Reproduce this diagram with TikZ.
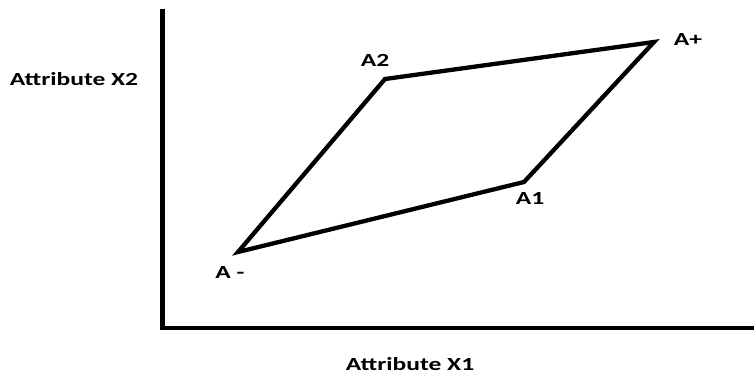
\documentclass[tikz,border=0pt]{standalone}
\usepackage{fontspec}
\setmainfont{Carlito}
\newfontfamily\lbl[FakeStretch=1.38]{Carlito}
\begin{document}
\begin{tikzpicture}[x=1pt,y=-1pt,
  lab/.style={font=\lbl\bfseries\fontsize{18.5}{22}\selectfont, inner sep=0pt, anchor=center},
  edge/.style={line width=4.3pt, line join=miter, line cap=round}]
\useasboundingbox (0,0) rectangle (754,375);
\coordinate (ytop) at (162.5,9);
\coordinate (orig) at (162.5,328);
\coordinate (xend) at (754,328);
\draw[line width=4.8pt] (ytop) -- (orig) -- (xend);
\coordinate (Am) at (238,252);
\coordinate (A2) at (385,79);
\coordinate (Ap) at (654,42);
\coordinate (A1) at (524,182);
\draw[edge] (Am) -- (A2) -- (Ap) -- (A1) -- cycle;
\node[lab] (lAm) at (230,272) {A -};
\node[lab] (lA2) at (375,60) {A2};
\node[lab] (lAp) at (688,39) {A+};
\node[lab] (lA1) at (530,198) {A1};
\node[lab] (ly) at (74,79) {Attribute X2};
\node[lab] (lx) at (410,364) {Attribute X1};
\end{tikzpicture}
\end{document}
